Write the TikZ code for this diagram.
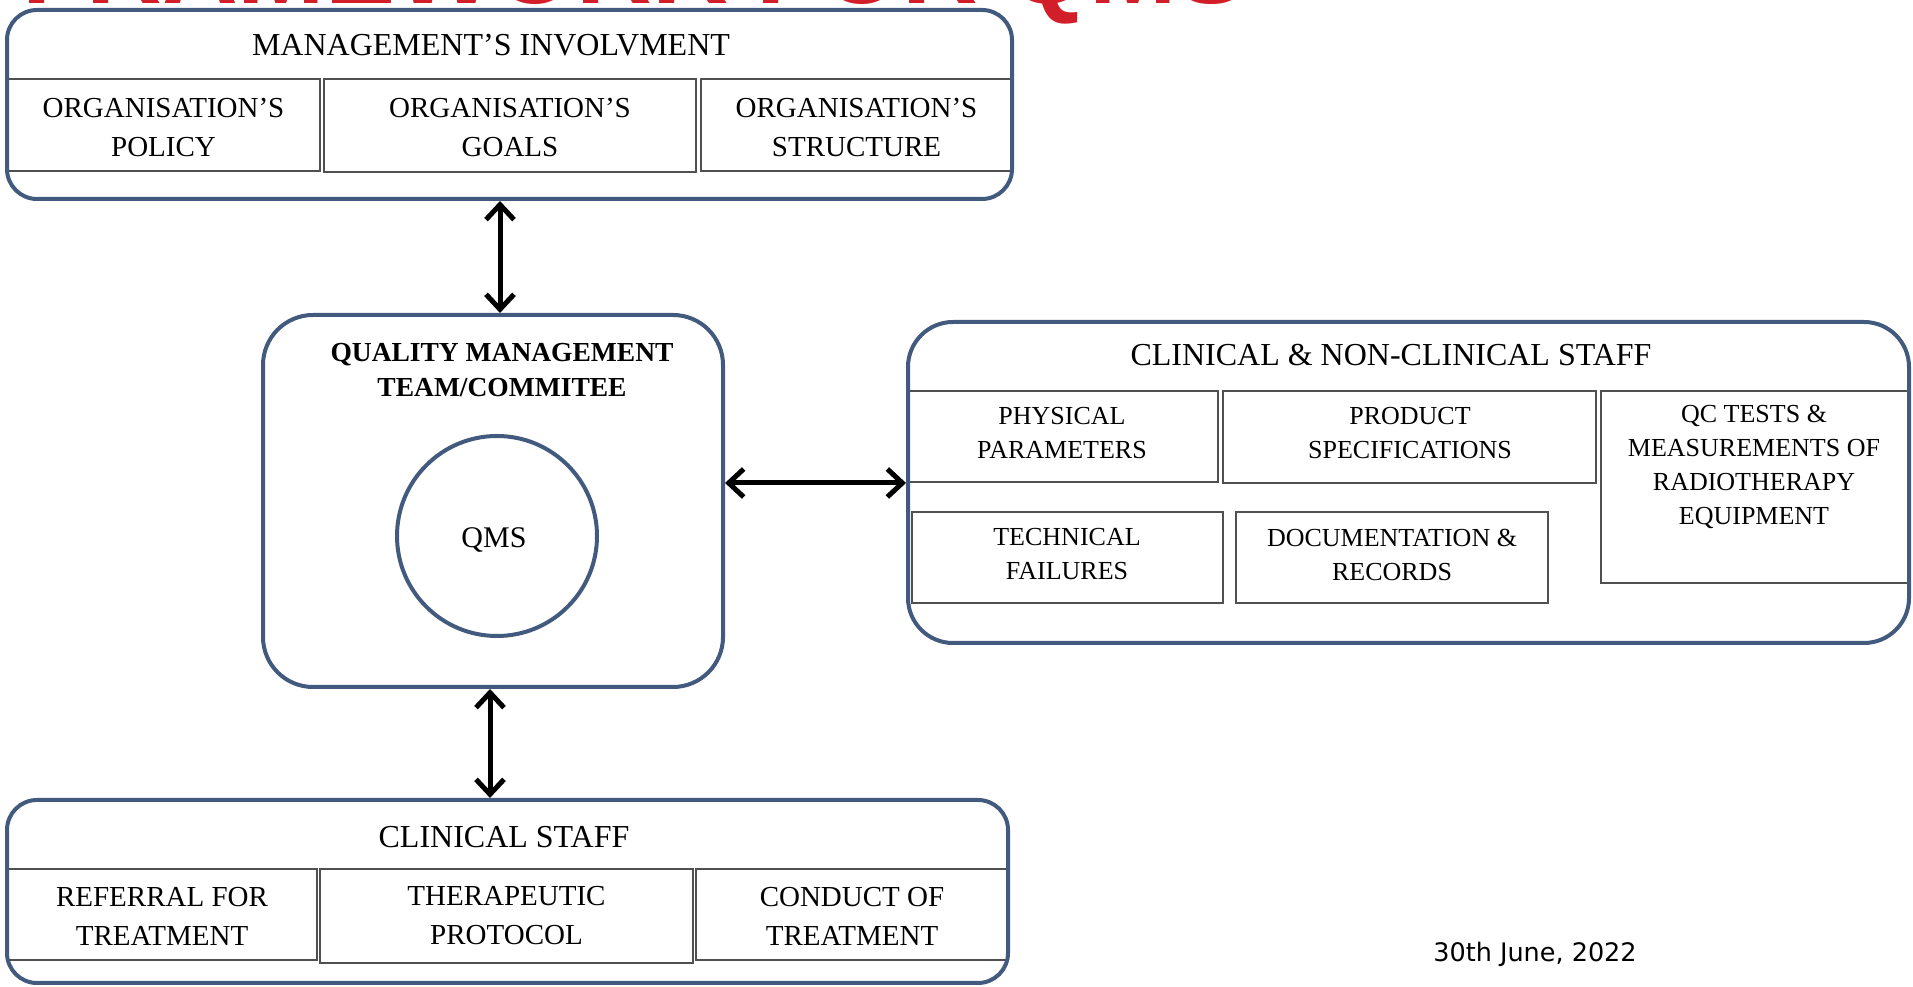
\documentclass[tikz,border=0pt]{standalone}
\usepackage{fontspec}
\setmainfont{Liberation Serif}
\newfontfamily\datefont{DejaVu Sans}
\newfontfamily\titlefont{Liberation Sans}
\usetikzlibrary{arrows.meta}
\definecolor{boxblue}{RGB}{65,90,125}
\definecolor{cellgray}{RGB}{80,80,80}
\definecolor{titlered}{RGB}{210,30,40}
\tikzset{
  outerbox/.style={draw=boxblue, line width=4pt, rounded corners=#1, inner sep=0pt},
  cellbox/.style={draw=cellgray, line width=2.5pt, inner sep=0pt},
  celltext/.style={inner sep=0pt, align=center, font=\fontsize{29}{39}\selectfont},
  smalltext/.style={inner sep=0pt, align=center, font=\fontsize{26}{34}\selectfont},
  hdrtext/.style={inner sep=0pt, align=center, font=\fontsize{32}{38}\selectfont},
  biarrow/.style={line width=5pt, {Straight Barb[length=15pt,width=28pt]}-{Straight Barb[length=15pt,width=28pt]}},
}
\begin{document}
\begin{tikzpicture}[x=1pt,y=1pt]
\useasboundingbox (0,0) rectangle (1913,987);
% cut-off title
\begin{scope}
\clip (0,0) rectangle (1913,987);
\node[anchor=base west, inner sep=0pt, text=titlered, font=\titlefont\bfseries\fontsize{105}{110}\selectfont] (title) at (22,983) {FRAMEWORK FOR QMS};
\end{scope}

% ---- top: management's involvement
\node[cellbox, minimum width=313pt, minimum height=92pt] (policy) at (163.5,862) {};
\node[cellbox, minimum width=372pt, minimum height=93pt] (goals) at (510,861.5) {};
\node[cellbox, minimum width=311pt, minimum height=92pt] (struct) at (856.5,862) {};
\node[celltext] (policyt) at (163.5,859.5) {ORGANISATION'S\\POLICY};
\node[celltext] (goalst) at (510,859.5) {ORGANISATION'S\\GOALS};
\node[celltext] (structt) at (856.5,859.5) {ORGANISATION'S\\STRUCTURE};
\node[outerbox=30, minimum width=1005pt, minimum height=189pt] (mg) at (509.5,882.5) {};
\node[hdrtext] (mgt) at (491,942) {MANAGEMENT'S INVOLVMENT};

% ---- QMT
\node[outerbox=50, minimum width=460pt, minimum height=372pt] (qmt) at (493,486) {};
\node[inner sep=0pt, align=center, font=\bfseries\fontsize{27.5}{35}\selectfont] (qmtt) at (502,616.5) {QUALITY MANAGEMENT\\TEAM/COMMITEE};
\node[circle, draw=boxblue, line width=4pt, minimum size=200pt, inner sep=0pt] (qms) at (497,451) {};
\node[inner sep=0pt, font=\fontsize{30}{36}\selectfont] (qmst) at (494,447) {QMS};

% ---- right: clinical & non-clinical staff
\node[cellbox, minimum width=310pt, minimum height=91pt] (phys) at (1063,550.5) {};
\node[cellbox, minimum width=373pt, minimum height=92pt] (prod) at (1409.5,550) {};
\node[cellbox, minimum width=308pt, minimum height=192pt] (qc) at (1755,500) {};
\node[cellbox, minimum width=311pt, minimum height=91pt] (tech) at (1067.5,429.5) {};
\node[cellbox, minimum width=312pt, minimum height=91pt] (doc) at (1392,429.5) {};
\node[smalltext] (physt) at (1062,554) {PHYSICAL\\PARAMETERS};
\node[smalltext] (prodt) at (1410,554) {PRODUCT\\SPECIFICATIONS};
\node[smalltext] (qct) at (1754,520) {QC TESTS \&\\MEASUREMENTS OF\\RADIOTHERAPY\\EQUIPMENT};
\node[smalltext] (techt) at (1067,432.5) {TECHNICAL\\FAILURES};
\node[smalltext] (doct) at (1392,432.5) {DOCUMENTATION \&\\RECORDS};
\node[outerbox=45, minimum width=1001pt, minimum height=321pt] (ncs) at (1408.5,504.5) {};
\node[hdrtext] (ncst) at (1391,632) {CLINICAL \& NON-CLINICAL STAFF};

% ---- bottom: clinical staff
\node[cellbox, minimum width=310pt, minimum height=91pt] (ref) at (162,72.5) {};
\node[cellbox, minimum width=373pt, minimum height=94pt] (ther) at (506.5,71) {};
\node[cellbox, minimum width=312pt, minimum height=91pt] (cond) at (852,72.5) {};
\node[celltext] (reft) at (162,71) {REFERRAL FOR\\TREATMENT};
\node[celltext] (thert) at (506.5,71) {THERAPEUTIC\\PROTOCOL};
\node[celltext] (condt) at (852,71) {CONDUCT OF\\TREATMENT};
\node[outerbox=30, minimum width=1001pt, minimum height=183pt] (cs) at (507.5,95.5) {};
\node[hdrtext] (cst) at (504,150) {CLINICAL STAFF};

% ---- connectors
\coordinate (ax) at (500,0);
\coordinate (bx) at (490,0);
\coordinate (cy) at (0,504);
\draw[biarrow] (mg.south -| ax) -- (qmt.north -| ax);
\draw[biarrow] (qmt.south -| bx) -- (cs.north -| bx);
\draw[biarrow] (qmt.east |- cy) -- (ncs.west |- cy);

% ---- date
\node[anchor=base, inner sep=0pt, font=\datefont\fontsize{25.5}{29}\selectfont] (date) at (1535,25) {30th June, 2022};
\end{tikzpicture}
\end{document}
